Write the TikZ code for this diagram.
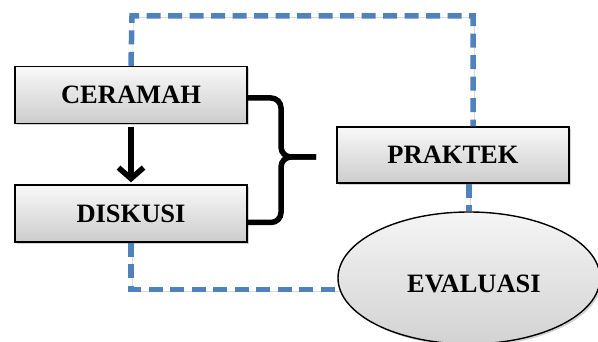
\documentclass[tikz,border=0pt]{standalone}
\usepackage{fontspec}
\setmainfont{Liberation Serif}
\usetikzlibrary{arrows.meta,shapes.geometric,shadows,positioning}
\definecolor{dashblue}{HTML}{4F81BD}

\begin{document}
\begin{tikzpicture}[x=1pt, y=-1pt, semithick]
  \tikzstyle{stage} = [draw, line width=1.4pt, rectangle, top color=gray!5, bottom color=gray!40, minimum width=232pt, minimum height=57pt, inner sep=0pt, font={\fontsize{26.5}{30}\selectfont\bfseries}, drop shadow={opacity=0.35, shadow xshift=2pt, shadow yshift=-2pt}]
  \tikzstyle{evalshape} = [stage, ellipse, minimum width=262pt, minimum height=132pt, top color=gray!8, bottom color=gray!35]
  \tikzstyle{flowEdge} = [dashblue, line width=5.5pt, dash pattern=on 14pt off 7.5pt, preaction={draw=black, opacity=0.15, transform canvas={xshift=1.5pt, yshift=-1.5pt}}];
  \tikzstyle{braceEdge} = [black, line width=5.5pt, rounded corners=10pt];

  \useasboundingbox (0,0) rectangle (598,342);

  \node[stage](cer) at (131,95) {CERAMAH};
  \node[stage](dis) at (131,213.5) {DISKUSI};
  \node[stage, minimum height=56pt](pra) at (453,155) {PRAKTEK};
  \node[evalshape, label={[font={\fontsize{26.5}{30}\selectfont\bfseries}, xshift=5pt, yshift=-6pt]center:EVALUASI}](eva) at (469,278) {};

  \coordinate (topl) at (132,16);
  \coordinate (topr) at (473,16);
  \coordinate (tip) at (316,157);
  \coordinate (spine) at (281,157);

  % dashed loop
  \draw[flowEdge] (cer.north) -- (topl) -- (topr) -- (topr |- pra.north);
  \draw[flowEdge] (pra.south -| eva.north) -- (eva.north);
  \draw[flowEdge] (dis.south) |- (eva.185);

  % arrow and brace
  \draw[black, line width=5.5pt, -{Straight Barb[length=11pt, width=25pt]}, shorten <=3pt, shorten >=2pt] (cer) -- (dis);
  \draw[braceEdge] ([yshift=-3pt]cer.east) -| (spine) -- (tip);
  \draw[braceEdge] (tip) -- (spine) |- ([yshift=-9pt]dis.east);
\end{tikzpicture}
\end{document}
